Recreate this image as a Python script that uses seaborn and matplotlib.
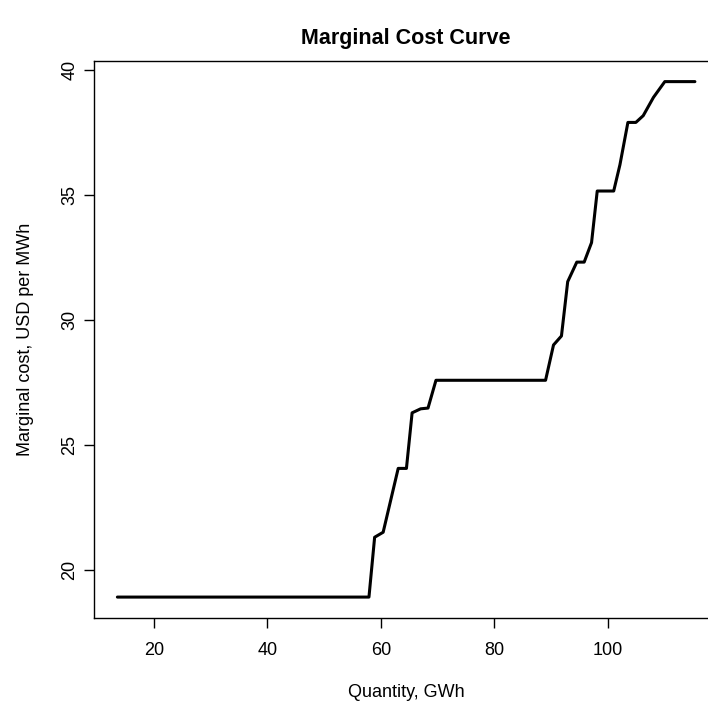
import matplotlib
matplotlib.use("Agg")
import matplotlib.pyplot as plt
import seaborn as sns
import numpy as np
import pandas as pd

# Data
quantity_gwh = [13.6, 57.9, 58.9, 60.4, 63.05, 64.5, 65.5, 67.0, 68.3, 69.7,
                89.0, 90.4, 91.8, 92.9, 94.5, 95.8, 97.1, 98.1, 101.0, 102.1,
                103.5, 104.9, 106.2, 108.0, 110.0, 115.3]
marginal_cost = [18.93, 18.93, 21.32, 21.52, 24.07, 24.07, 26.29, 26.45, 26.48, 27.59,
                 27.59, 29.0, 29.36, 31.53, 32.31, 32.31, 33.09, 35.15, 35.15, 36.2,
                 37.89, 37.89, 38.16, 38.89, 39.52, 39.52]
x_ticks = [20, 40, 60, 80, 100]
y_ticks = [20, 25, 30, 35, 40]

df = pd.DataFrame({"q": quantity_gwh, "mc": marginal_cost})

sns.set_theme(style="white")
plt.rcParams["font.family"] = ["Liberation Sans", "DejaVu Sans"]

fig = plt.figure(figsize=(7.08, 7.07), dpi=100)
W, H = 708, 707
left, right, top, bottom = 94.3, 718.0, 61.0, 617.7
ax = fig.add_axes([left / W, 1 - bottom / H, (right - left) / W, (bottom - top) / H])

sns.lineplot(data=df, x="q", y="mc", ax=ax, color="black", linewidth=2.2,
             sort=False, estimator=None)

# R-style 4% axis padding
xr = max(quantity_gwh) - min(quantity_gwh)
yr = max(marginal_cost) - min(marginal_cost)
ax.set_xlim(min(quantity_gwh) - 0.04 * xr, max(quantity_gwh) + 0.04 * xr)
ax.set_ylim(min(marginal_cost) - 0.04 * yr, max(marginal_cost) + 0.04 * yr)

ax.set_xticks(x_ticks)
ax.set_yticks(y_ticks)
ax.set_yticklabels([str(t) for t in y_ticks], rotation=90, va="center")

for s in ax.spines.values():
    s.set_color("black")
    s.set_linewidth(1.0)

ax.tick_params(axis="both", which="both", direction="out", length=7.5, width=1.0,
               color="black", labelsize=13, labelcolor="black",
               bottom=True, left=True, top=False, right=False)
ax.tick_params(axis="x", pad=10)
ax.tick_params(axis="y", pad=4)

ax.set_xlabel("Quantity, GWh", fontsize=13, color="black", labelpad=18)
ax.set_ylabel("Marginal cost, USD per MWh", fontsize=13, color="black", labelpad=20)
ax.set_title("Marginal Cost Curve", fontsize=15.5, fontweight="bold", color="black", pad=12)

fig.savefig("out.png", dpi=100, facecolor="white")
